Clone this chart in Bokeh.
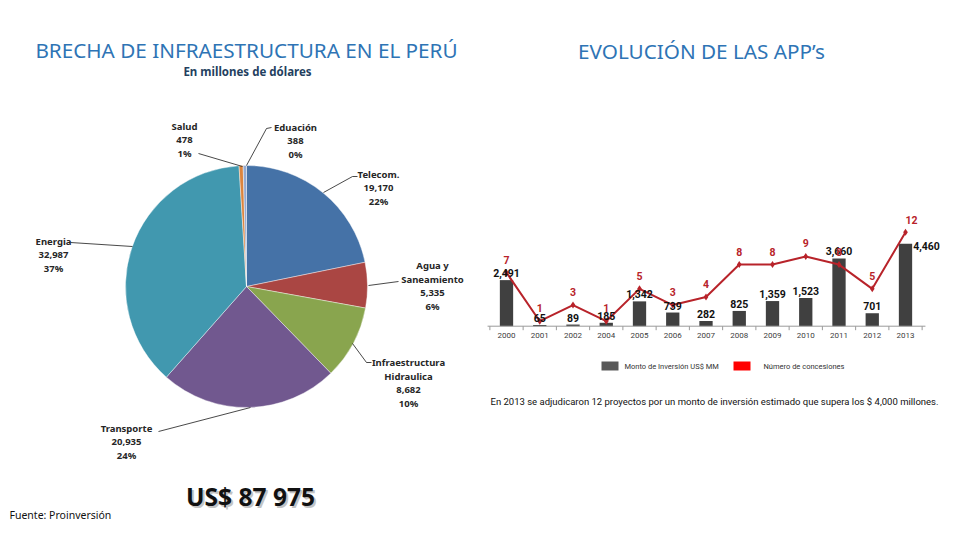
import numpy as np
from bokeh.plotting import figure
from bokeh.models import Range1d
from bokeh.core.properties import value
from bokeh.embed import file_html
from bokeh.resources import INLINE

# ---------------- data ----------------
sector_names = [["Telecom."], ["Agua y", "Saneamiento"], ["Infraestructura", "Hidraulica"],
                ["Transporte"], ["Energia"], ["Salud"], ["Eduación"]]
sector_amounts = [19170, 5335, 8682, 20935, 32987, 478, 388]
sector_colors = ["#4572A7", "#AA4643", "#89A54E", "#71588F", "#4198AF", "#DB843D", "#93A9CF"]

years = ["2000", "2001", "2002", "2004", "2005", "2006", "2007",
         "2008", "2009", "2010", "2011", "2012", "2013"]
investment = [2491, 65, 89, 185, 1342, 739, 282, 825, 1359, 1523, 3660, 701, 4460]
concessions = [7, 1, 3, 1, 5, 3, 4, 8, 8, 9, 8, 5, 12]

legend_labels = ["Monto de Inversión US$ MM", "Número de concesiones"]

# ---------------- layout constants (page pixels) ----------------
W, H = 944, 524
def Y(py):            # page y (down) -> data y (up)
    return H - py

FONT = "Noto Sans"
SMALL = "Roboto"

p = figure(width=W, height=H, output_backend="svg", toolbar_location=None,
           x_range=Range1d(0, W), y_range=Range1d(0, H),
           x_axis_location=None, y_axis_location=None, min_border=0)
p.grid.visible = False
p.outline_line_color = None
p.background_fill_color = "white"
p.border_fill_color = "white"

# ---------------- pie ----------------
cx, cy, R = 246, Y(286), 121
total = sum(sector_amounts)
frac = np.array(sector_amounts) / total
cum_end = np.cumsum(frac)
cum_start = cum_end - frac
start_ang = np.pi / 2 - 2 * np.pi * cum_end
end_ang = np.pi / 2 - 2 * np.pi * cum_start
p.wedge(x=cx, y=cy, radius=R, start_angle=start_ang, end_angle=end_ang,
        fill_color=sector_colors, line_color="white", line_width=0.6, line_alpha=0.7)

# label anchors (center x, first-line page y) and leader polylines
label_pos = [(378, 174), (432, 265), (408, 362), (126, 428), (53, 241), (184, 126), (295, 127)]
leaders = [[(357, 176), (352, 176), (323, 192)],
           [(398, 281), (368, 285)],
           [(352, 343), (366, 362), (371, 362)],
           [(158, 431), (250, 407)],
           [(70, 242), (132, 246)],
           [(198, 153), (242, 166)],
           [(271, 127), (266, 128), (246, 165)]]
for pts in leaders:
    p.line([q[0] for q in pts], [Y(q[1]) for q in pts], line_color="#1a1a1a", line_width=0.8)

LS = 13.5
for names, amt, (lx, ly) in zip(sector_names, sector_amounts, label_pos):
    pct = f"{round(100 * amt / total)}%"
    lines = names + [f"{amt:,}", pct]
    for k, t in enumerate(lines):
        p.text(x=[lx], y=[Y(ly + k * LS)], text=[t], text_align="center", text_baseline="middle",
               text_font=value(FONT), text_font_size="9.5px", text_font_style="bold",
               text_color="#262626")

# titles
p.text(x=[246], y=[Y(49)], text=["BRECHA DE INFRAESTRUCTURA EN EL PERÚ"], text_align="center",
       text_baseline="middle", text_font=value(FONT), text_font_size="20.7px", text_color="#2E74B5")
p.text(x=[247], y=[Y(71)], text=["En millones de dólares"], text_align="center",
       text_baseline="middle", text_font=value(FONT), text_font_size="11.5px",
       text_font_style="bold", text_color="#243F60")
p.text(x=[701], y=[Y(50)], text=["EVOLUCIÓN DE LAS APP’s"], text_align="center",
       text_baseline="middle", text_font=value(FONT), text_font_size="20.7px", text_color="#2E74B5")

# total
total_txt = f"US$ {total:,}".replace(",", " ")
p.text(x=[252], y=[Y(498)], text=[total_txt], text_align="center",
       text_baseline="middle", text_font=value(FONT), text_font_size="24.5px",
       text_font_style="bold", text_color="#c4c4c4")
p.text(x=[250], y=[Y(496)], text=[total_txt], text_align="center",
       text_baseline="middle", text_font=value(FONT), text_font_size="24.5px",
       text_font_style="bold", text_color="#111111")
p.text(x=[9], y=[Y(514)], text=["Fuente: Proinversión"], text_align="left",
       text_baseline="middle", text_font=value(FONT), text_font_size="10.5px", text_color="#111111")

# ---------------- bar + line chart (own scales) ----------------
X0, DX = 506, 33.25                  # page x of first category, step
BASE, APX = 325.7, 0.0185           # amount baseline (page y), px per US$ MM
CBASE, CPX = 328.8, 8.09            # concession zero (page y), px per concession
p.extra_x_ranges = {"yr": Range1d((0 - X0) / DX, (W - X0) / DX)}
p.extra_y_ranges = {
    "amt": Range1d((0 - Y(BASE)) / APX, (H - Y(BASE)) / APX),
    "cnt": Range1d((0 - Y(CBASE)) / CPX, (H - Y(CBASE)) / CPX),
}
idx = np.arange(len(years))

p.vbar(x=idx, top=investment, bottom=0, width=0.4, fill_color="#404040", line_color=None,
       x_range_name="yr", y_range_name="amt")
# axis line and category ticks
p.segment(x0=[-0.57], y0=[0], x1=[12.6], y1=[0], line_color="#9a9a9a", line_width=1,
          x_range_name="yr", y_range_name="amt")
bounds = np.arange(len(years) + 1) - 0.5
p.segment(x0=bounds, y0=0, x1=bounds, y1=-4 / APX, line_color="#9a9a9a", line_width=1,
          x_range_name="yr", y_range_name="amt")
p.text(x=idx, y=0, text=years, y_offset=7, text_align="center", text_baseline="top",
       text_font=value(SMALL), text_font_size="8px", text_color="#404040",
       x_range_name="yr", y_range_name="amt")

p.line(idx, concessions, line_color="#B8232A", line_width=2,
       x_range_name="yr", y_range_name="cnt")
p.scatter(idx, concessions, marker="diamond", size=7, fill_color="#B8232A", line_color=None,
          x_range_name="yr", y_range_name="cnt")

n = len(years)
bx_off = [0] * (n - 1) + [21]
by_off = [-3] * (n - 1) + [6]
p.text(x=idx, y=investment, text=[f"{v:,}" for v in investment], x_offset=bx_off, y_offset=by_off,
       text_align="center", text_baseline="bottom", text_font=value(SMALL),
       text_font_size="10.5px", text_font_style="bold", text_color="#111111",
       x_range_name="yr", y_range_name="amt")
cx_off = [0] * (n - 1) + [6]
cy_off = [-9] * (n - 1) + [-8]
p.text(x=idx, y=concessions, text=[str(c) for c in concessions], x_offset=cx_off, y_offset=cy_off,
       text_align="center", text_baseline="bottom", text_font=value(SMALL),
       text_font_size="10.5px", text_font_style="bold", text_color="#B8232A",
       x_range_name="yr", y_range_name="cnt")

# legend
p.rect(x=[609.5, 741.5], y=[Y(365.5), Y(365.5)], width=17, height=9,
       fill_color=["#595959", "#FF0000"], line_color=None)
p.text(x=[624, 763], y=[Y(366), Y(366)], text=legend_labels, text_align="left",
       text_baseline="middle", text_font=value(SMALL), text_font_size="7.5px", text_color="#333333")

# footnote
p.text(x=[714], y=[Y(401)], text=["En 2013 se adjudicaron 12 proyectos por un monto de inversión "
                                  "estimado que supera los $ 4,000 millones."],
       text_align="center", text_baseline="middle", text_font=value(SMALL),
       text_font_size="9.5px", text_color="#111111")

open("out.html", "w").write(file_html(p, INLINE))
